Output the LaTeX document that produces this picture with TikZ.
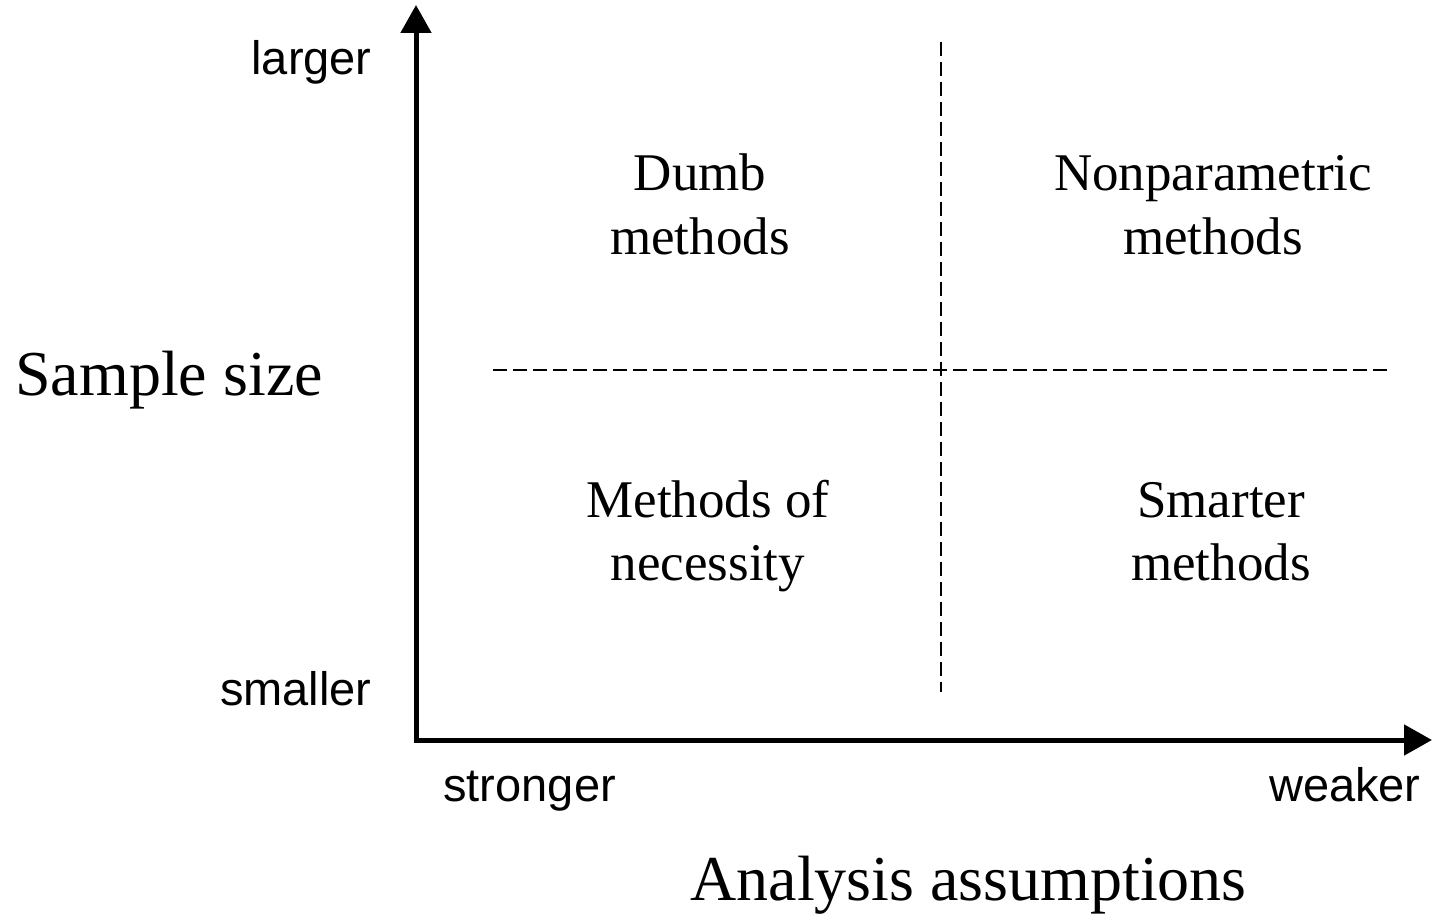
\documentclass[tikz,border=0pt]{standalone}
\usepackage{fontspec}
\setmainfont{Liberation Serif}
\setsansfont{Liberation Sans}
\usetikzlibrary{arrows.meta}
\begin{document}
\begin{tikzpicture}[x=0.5pt,y=-0.5pt,
  axis/.style={line width=2.5pt,line join=miter,{Triangle[length=14pt,width=15pt]}-{Triangle[length=14pt,width=15pt]}},
  divider/.style={line width=0.9pt,dash pattern=on 7pt off 3pt},
  tick/.style={font=\sffamily\fontsize{23.5}{28}\selectfont,inner sep=0pt},
  title/.style={font=\fontsize{32}{38}\selectfont,inner sep=0pt},
  quad/.style={font=\fontsize{26.5}{32}\selectfont,inner sep=0pt,anchor=base}]
\useasboundingbox (0,0) rectangle (1432,920);
\coordinate (ytip) at (416,5);
\coordinate (origin) at (416,740);
\coordinate (xtip) at (1432,740);
\draw[axis] (ytip) -- (origin) -- (xtip);
\coordinate (vtop) at (941,42);
\coordinate (vbot) at (941,692);
\coordinate (hl) at (493,370);
\coordinate (hr) at (1392,370);
\draw[divider] (vtop) -- (vbot);
\draw[divider] (hl) -- (hr);
\node[tick,anchor=base east] (larger) at (372,75) {larger};
\node[tick,anchor=base east] (smaller) at (372,705) {smaller};
\node[tick,anchor=base west] (stronger) at (443,801) {stronger};
\node[tick,anchor=base east] (weaker) at (1421,801) {weaker};
\node[title,anchor=base west] (ylab) at (15,395) {Sample size};
\node[title,anchor=base west] (xlab) at (690,900) {Analysis assumptions};
\node[quad] (q1a) at (700,191) {Dumb};
\node[quad] (q1b) at (700,255) {methods};
\node[quad] (q2a) at (1213,191) {Nonparametric};
\node[quad] (q2b) at (1213,255) {methods};
\node[quad] (q3a) at (708,517) {Methods of};
\node[quad] (q3b) at (708,580) {necessity};
\node[quad] (q4a) at (1221,517) {Smarter};
\node[quad] (q4b) at (1221,580) {methods};
\end{tikzpicture}
\end{document}
